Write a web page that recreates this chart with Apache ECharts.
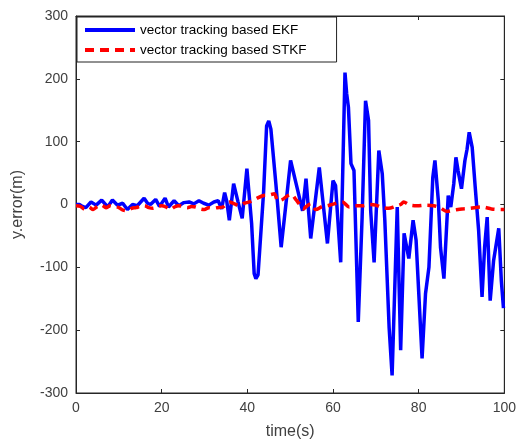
<!DOCTYPE html>
<html>
<head>
<meta charset="utf-8">
<script src="https://cdn.jsdelivr.net/npm/echarts@6/dist/echarts.min.js"></script>
<style>html,body{margin:0;padding:0;background:#fff}#c{width:519px;height:448px}</style>
</head>
<body>
<div id="c"></div>
<script>
var seriesNames = ['vector tracking based EKF', 'vector tracking based STKF'];
var xTicks = [0, 20, 40, 60, 80, 100];
var yTicks = [-300, -200, -100, 0, 100, 200, 300];

var ekfTime = [0,0.8,1.5,2.3,3.5,4.7,6.0,7.4,8.5,9.7,10.9,12.0,13.2,14.3,15.9,16.7,17.4,18.6,19.5,20.8,21.6,22.9,24.0,25.2,26.4,27.5,28.7,29.8,31.0,32.2,33.2,34.0,34.7,35.2,35.8,36.8,37.8,38.8,39.9,41.0,41.6,42.0,42.5,43.8,44.5,45.0,45.5,46.7,47.9,49.0,50.1,51.5,52.9,53.7,54.8,56.8,58.7,60.0,60.6,61.8,62.8,63.2,63.6,64.2,64.9,65.9,66.8,67.6,68.3,68.8,69.6,70.7,71.5,72.1,73.1,73.8,75.0,75.8,76.6,77.7,78.7,79.4,80.8,81.6,82.4,83.3,83.8,84.6,85.1,85.9,86.9,87.5,88.2,88.7,89.2,90.0,90.8,91.3,91.8,92.5,93.2,94.0,94.8,95.4,96.0,96.7,97.5,98.7,99.3,99.8];
var ekfError = [0,0,-3,-5,4,-1,7,-4,7,-1,2,-8,0,-2,10,2,0,8,-3,10,-4,6,-2,3,4,1,6,2,-1,4,6,-7,19,5,-25,33,5,-22,57,-30,-110,-118,-112,20,125,133,120,30,-68,0,70,30,-10,41,-54,59,-62,38,30,-92,210,176,155,65,54,-187,-20,165,134,-10,-92,86,49,-25,-195,-272,-4,-232,-46,-86,-25,-57,-245,-142,-100,43,70,6,-68,-118,14,-4,33,75,54,25,70,88,115,91,28,-41,-147,-68,-20,-153,-89,-38,-121,-165];

var stkfTime = [0,1,2,3,4,5,6,7,8,9,10,11,12,13,14,15,16,17,18,19,20,21,22,23,24,25,26,27,28,29,30,31,32,33,34.3,35.8,37,38.2,39.3,40.5,42.0,43.6,45,46.3,47.1,48.2,49.4,50.3,51.3,52.1,53,54,54.8,56,57.5,58.7,60.3,62.2,63.8,65.2,66.9,68.5,70,71.5,73,74.5,75.8,76.5,78,79.7,81.5,83.5,85,86.6,88.3,90.1,92,94.8,97,99.4,100];
var stkfError = [-2,-3,-7,-4,-8,-3,-1,-5,-2,-3,-5,-9,-10,-6,-5,-3,-2,-5,-6,-3,-2,-4,-8,-4,-2,-3,-5,-3,-4,-7,-8,-5,-6,-5,-4,4,1,-2,2,4,9,14,15,17,6,8,14,16,8,1,-7,-2,1,-8,-3,-2,1,4,-4,-2,-2,0,-1,-5,-6,-3,0,4,-1,-2,-1,-2,-5,-11,-9,-7,-6,-4,-7,-8,-8];

function pairs(xs, ys){ return xs.map(function(x,i){ return [x, ys[i]]; }); }

var chart = echarts.init(document.getElementById('c'), null, {renderer:'canvas'});
var axisColor = '#262626';
var labelColor = '#404040';
var font = 'Liberation Sans, Arial, sans-serif';
function tickAxis(extra){
  var base = {
    axisLine: {show: true, onZero: false, lineStyle: {color: axisColor}},
    axisTick: {show: true, inside: true, length: 4, lineStyle: {color: axisColor}},
    splitLine: {show: false}
  };
  for (var k in extra) base[k] = extra[k];
  return base;
}
chart.setOption({
  animation: false,
  backgroundColor: '#fff',
  grid: {left: 76, right: 13, top: 16, bottom: 55, show: true, borderColor: axisColor, borderWidth: 1, containLabel: false},
  legend: {
    orient: 'vertical', left: 77, top: 17,
    data: seriesNames,
    itemWidth: 50, itemHeight: 14, itemGap: 6,
    padding: [6, 30, 5, 6],
    itemStyle: {opacity: 0},
    lineStyle: {width: 4},
    backgroundColor: '#fff', borderColor: '#222', borderWidth: 1,
    textStyle: {fontFamily: font, fontSize: 13.5, color: '#000'}
  },
  xAxis: [tickAxis({
    type: 'value', min: 0, max: 100, interval: 20,
    name: 'time(s)', nameLocation: 'middle', nameGap: 31,
    nameTextStyle: {fontFamily: font, fontSize: 16, color: labelColor},
    axisLabel: {fontFamily: font, fontSize: 14, color: labelColor, margin: 8}
  }), tickAxis({
    type: 'value', min: 0, max: 100, interval: 20, position: 'top',
    axisLabel: {show: false}
  })],
  yAxis: [tickAxis({
    type: 'value', min: -300, max: 300, interval: 100,
    name: 'y.error(m)', nameLocation: 'middle', nameGap: 50,
    nameTextStyle: {fontFamily: font, fontSize: 16, color: labelColor},
    axisLabel: {fontFamily: font, fontSize: 14, color: labelColor, margin: 8}
  }), tickAxis({
    type: 'value', min: -300, max: 300, interval: 100, position: 'right',
    axisLabel: {show: false}
  })],
  series: [{
    name: seriesNames[0], type: 'line', data: pairs(ekfTime, ekfError),
    symbol: 'none', lineStyle: {color: '#0000FF', width: 3.5}, itemStyle: {color: '#0000FF'}, z: 2
  }, {
    name: seriesNames[1], type: 'line', data: pairs(stkfTime, stkfError), smooth: 0.3,
    symbol: 'none', lineStyle: {color: '#FF0000', width: 3.5, type: [9, 6]}, itemStyle: {color: '#FF0000'}, z: 3
  }]
});
</script>
</body>
</html>
